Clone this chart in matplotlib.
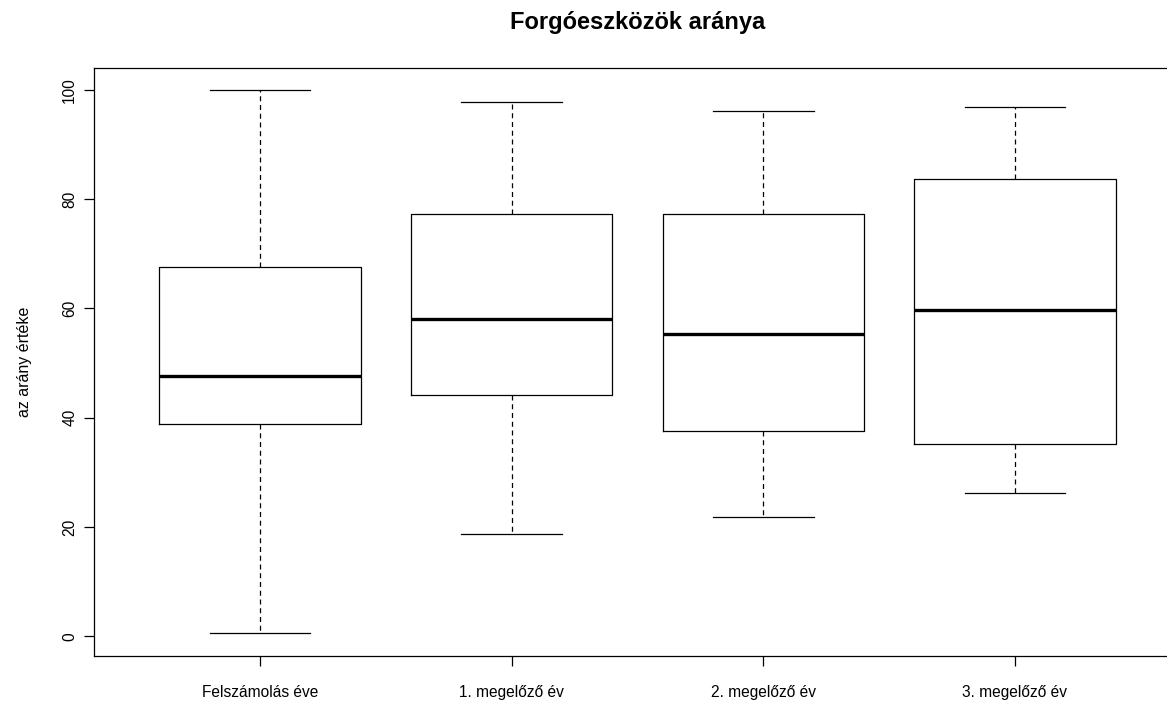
import matplotlib
matplotlib.use("Agg")
import matplotlib.pyplot as plt

plt.rcParams['font.family'] = ['Liberation Sans', 'DejaVu Sans']

labels = ['Felszámolás éve', '1. megelőző év', '2. megelőző év', '3. megelőző év']
whisker_low = [0.6, 18.7, 21.9, 26.3]
q1 = [38.9, 44.1, 37.6, 35.2]
median = [47.7, 58.0, 55.4, 59.8]
q3 = [67.5, 77.2, 77.3, 83.6]
whisker_high = [100.0, 97.7, 96.1, 96.9]

stats = []
for i in range(len(labels)):
    stats.append({'label': labels[i], 'whislo': whisker_low[i], 'q1': q1[i],
                  'med': median[i], 'q3': q3[i], 'whishi': whisker_high[i],
                  'fliers': []})

fig = plt.figure(figsize=(11.67, 7.01), dpi=100)
# plot region runs past the right edge of the figure
ax = fig.add_axes([94/1167, 1 - 656/701, (1181 - 94)/1167, (656 - 68)/701])

ax.bxp(stats, positions=[1, 2, 3, 4], widths=0.8, showfliers=False,
       boxprops=dict(color='black', linewidth=0.9),
       whiskerprops=dict(color='black', linewidth=0.9, linestyle=(0, (4, 3))),
       capprops=dict(color='black', linewidth=0.9),
       medianprops=dict(color='black', linewidth=2.4, solid_capstyle='butt'),
       capwidths=0.4)

ax.set_xlim(0.34, 4.66)
ax.set_ylim(-3.58, 103.98)
ax.set_yticks([0, 20, 40, 60, 80, 100])
ax.set_yticklabels(['0', '20', '40', '60', '80', '100'], rotation=90, va='center')
ax.set_xticks([1, 2, 3, 4])
ax.set_xticklabels(labels)
ax.tick_params(axis='both', length=7, width=0.9, labelsize=11.2, colors='black')
ax.tick_params(axis='x', pad=14)
ax.tick_params(axis='y', pad=5)
for sp in ax.spines.values():
    sp.set_linewidth(0.9)

ax.set_ylabel('az arány értéke', fontsize=11.5, labelpad=22)
fig.text(637.5/1167, 1 - 23/701, 'Forgóeszközök aránya', ha='center', va='center',
         fontsize=17, fontweight='bold')

fig.savefig('out.png', dpi=100)
